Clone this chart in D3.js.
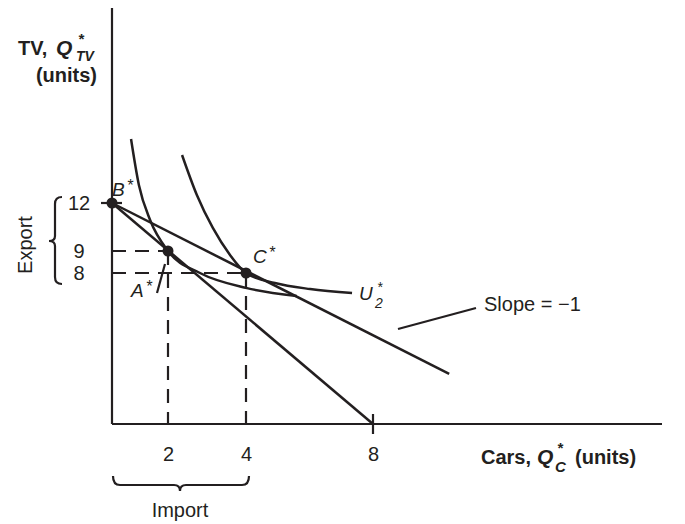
<!DOCTYPE html>
<html>
<head>
<meta charset="utf-8">
<script src="https://cdn.jsdelivr.net/npm/d3@7"></script>
<style>
  body { margin: 0; background: #fff; }
  svg { display: block; font-family: "Liberation Sans", Arial, Helvetica, sans-serif; }
  text { fill: #231f20; }
</style>
</head>
<body>
<svg id="plot" width="685" height="524"></svg>
<script>

// axis ticks (the figure is stylised, so the scales are piecewise through these)
const X_TICKS = [2, 4, 8];
const Y_TICKS = [8, 9, 12];

// production point B*, consumption without trade A*, with trade C*
const POINT_NAMES = ['B*', 'A*', 'C*'];
const POINT_CARS = [0, 2, 4];
const POINT_TV = [12, 9, 8];

// production possibility line and trade line (slope = -1)
const PPF_CARS = [0, 8];
const PPF_TV = [12, 0];
const TRADE_CARS = [0, 10.4];
const TRADE_TV = [12, 2.65];

// indifference curves
const U1_CARS = [0.68, 0.96, 1.36, 2, 2.82, 4.03, 5.6];
const U1_TV = [16, 13.13, 10.94, 9, 8, 7.2, 6.78];
const U2_CARS = [2.36, 2.74, 3.15, 3.59, 4, 4.91, 6.02, 7.34];
const U2_TV = [15, 12.5, 10.44, 8.82, 8, 7.47, 7.15, 6.94];

const INK = '#231f20';
const FONT = 20;

function whenDocumentLoaded(action) {
    if (document.readyState === "loading") {
        document.addEventListener("DOMContentLoaded", action);
    } else {
        action();
    }
}

function draw() {
    const svg = d3.select('#plot');

    const x = d3.scaleLinear().domain([0, 2, 4, 8]).range([112, 168, 246, 373]);
    const y = d3.scaleLinear().domain([0, 8, 9, 12]).range([424, 273, 251, 203]);

    const zip = (xs, ys) => xs.map((v, i) => [v, ys[i]]);
    const line = d3.line().x(d => x(d[0])).y(d => y(d[1]));
    const curve = d3.line().x(d => x(d[0])).y(d => y(d[1])).curve(d3.curveMonotoneX);

    // dashed guides
    const guides = svg.append('g')
        .attr('stroke', INK).attr('stroke-width', 2.2)
        .attr('stroke-dasharray', '14,9').attr('fill', 'none');
    [1, 2].forEach(i => {
        guides.append('path').attr('d', line([[0, POINT_TV[i]], [POINT_CARS[i], POINT_TV[i]]]));
        guides.append('path').attr('d', line([[POINT_CARS[i], POINT_TV[i]], [POINT_CARS[i], 0]]));
    });

    // axes
    svg.append('line').attr('x1', x(0)).attr('x2', x(0)).attr('y1', 8).attr('y2', y(0))
        .attr('stroke', INK).attr('stroke-width', 2.2);
    svg.append('line').attr('x1', x(0)).attr('x2', 662).attr('y1', y(0)).attr('y2', y(0))
        .attr('stroke', INK).attr('stroke-width', 2.2);

    const xAxis = svg.append('g')
        .attr('transform', `translate(0,${y(0)})`)
        .call(d3.axisBottom(x).tickValues(X_TICKS).tickSize(0).tickPadding(23));
    xAxis.select('.domain').remove();
    xAxis.selectAll('text').attr('font-size', FONT).attr('font-family', null).style('fill', INK);

    // tick mark at 8 crosses the axis, tick at 12 crosses the y axis
    svg.append('line').attr('x1', x(8)).attr('x2', x(8)).attr('y1', y(0) - 10).attr('y2', y(0) + 10)
        .attr('stroke', INK).attr('stroke-width', 2.2);
    svg.append('line').attr('x1', x(0) - 11).attr('x2', x(0) + 10).attr('y1', y(12)).attr('y2', y(12))
        .attr('stroke', INK).attr('stroke-width', 2.2);

    svg.append('g').selectAll('text')
        .data(Y_TICKS).enter()
        .append('text')
            .attr('x', 79)
            .attr('y', d => y(d))
            .attr('dy', '0.36em')
            .attr('text-anchor', 'middle')
            .attr('font-size', FONT)
            .text(d => d);

    // lines
    svg.append('path').attr('d', line(zip(PPF_CARS, PPF_TV)))
        .attr('stroke', INK).attr('stroke-width', 2.5).attr('fill', 'none');
    svg.append('path').attr('d', line(zip(TRADE_CARS, TRADE_TV)))
        .attr('stroke', INK).attr('stroke-width', 2.5).attr('fill', 'none');

    // indifference curves
    svg.append('path').attr('d', curve(zip(U1_CARS, U1_TV)))
        .attr('stroke', INK).attr('stroke-width', 2.5).attr('fill', 'none');
    svg.append('path').attr('d', curve(zip(U2_CARS, U2_TV)))
        .attr('stroke', INK).attr('stroke-width', 2.5).attr('fill', 'none');

    // points
    svg.append('g').selectAll('circle')
        .data(POINT_NAMES).enter()
        .append('circle')
            .attr('cx', (d, i) => x(POINT_CARS[i]))
            .attr('cy', (d, i) => y(POINT_TV[i]))
            .attr('r', 5.5)
            .attr('fill', INK);

    // point labels
    const pointLabel = (px, py, name) => {
        const t = svg.append('text').attr('x', px).attr('y', py)
            .attr('font-size', 19).attr('font-style', 'italic');
        t.append('tspan').text(name);
        t.append('tspan').attr('dx', 2).attr('dy', -5).attr('font-size', 16).text('*');
    };
    pointLabel(112, 196, 'B');
    pointLabel(131, 297, 'A');
    pointLabel(253, 263, 'C');

    // A* pointer
    svg.append('line').attr('x1', 157).attr('y1', 293).attr('x2', 165).attr('y2', 264)
        .attr('stroke', INK).attr('stroke-width', 2.2);

    // U2* label
    svg.append('text').attr('x', 359).attr('y', 300).attr('font-size', 19).attr('font-style', 'italic').text('U');
    svg.append('text').attr('x', 375).attr('y', 308).attr('font-size', 14).attr('font-style', 'italic').text('2');
    svg.append('text').attr('x', 377).attr('y', 292).attr('font-size', 14).attr('font-style', 'italic').text('*');

    // slope annotation
    svg.append('line').attr('x1', 398).attr('y1', 329).attr('x2', 476).attr('y2', 308)
        .attr('stroke', INK).attr('stroke-width', 2.2);
    svg.append('text').attr('x', 484).attr('y', 311).attr('font-size', FONT).text('Slope = \u22121');

    // y axis title
    svg.append('text').attr('x', 18).attr('y', 55).attr('font-size', FONT).attr('font-weight', 'bold').text('TV,');
    svg.append('text').attr('x', 56).attr('y', 55).attr('font-size', 21).attr('font-weight', 'bold')
        .attr('font-style', 'italic').text('Q');
    svg.append('text').attr('x', 78).attr('y', 44).attr('font-size', 15).attr('font-weight', 'bold')
        .attr('font-style', 'italic').text('*');
    svg.append('text').attr('x', 76).attr('y', 61).attr('font-size', 14).attr('font-weight', 'bold')
        .attr('font-style', 'italic').text('TV');
    svg.append('text').attr('x', 97).attr('y', 82).attr('text-anchor', 'end').attr('font-size', FONT)
        .attr('font-weight', 'bold').text('(units)');

    // x axis title
    svg.append('text').attr('x', 481).attr('y', 464).attr('font-size', FONT).attr('font-weight', 'bold').text('Cars,');
    svg.append('text').attr('x', 537).attr('y', 464).attr('font-size', 21).attr('font-weight', 'bold')
        .attr('font-style', 'italic').text('Q');
    svg.append('text').attr('x', 557).attr('y', 453).attr('font-size', 15).attr('font-weight', 'bold')
        .attr('font-style', 'italic').text('*');
    svg.append('text').attr('x', 555).attr('y', 472).attr('font-size', 15).attr('font-weight', 'bold')
        .attr('font-style', 'italic').text('C');
    svg.append('text').attr('x', 575).attr('y', 464).attr('font-size', FONT)
        .attr('font-weight', 'bold').text('(units)');

    // Export brace
    svg.append('path')
        .attr('d', 'M62,197 Q55,197 55,204 L55,236 Q55,241 49,241 Q55,241 55,246 L55,277 Q55,284 62,284')
        .attr('stroke', INK).attr('stroke-width', 2.2).attr('fill', 'none');
    svg.append('text')
        .attr('transform', 'translate(32,245) rotate(-90)')
        .attr('text-anchor', 'middle').attr('font-size', FONT).text('Export');

    // Import brace
    svg.append('path')
        .attr('d', 'M113,476 Q113,485 120,485 L174,485 Q180,485 180,491 Q180,485 186,485 L242,485 Q249,485 249,476')
        .attr('stroke', INK).attr('stroke-width', 2.2).attr('fill', 'none');
    svg.append('text').attr('x', 180).attr('y', 517).attr('text-anchor', 'middle')
        .attr('font-size', FONT).text('Import');
}

whenDocumentLoaded(draw);
</script>
</body>
</html>
